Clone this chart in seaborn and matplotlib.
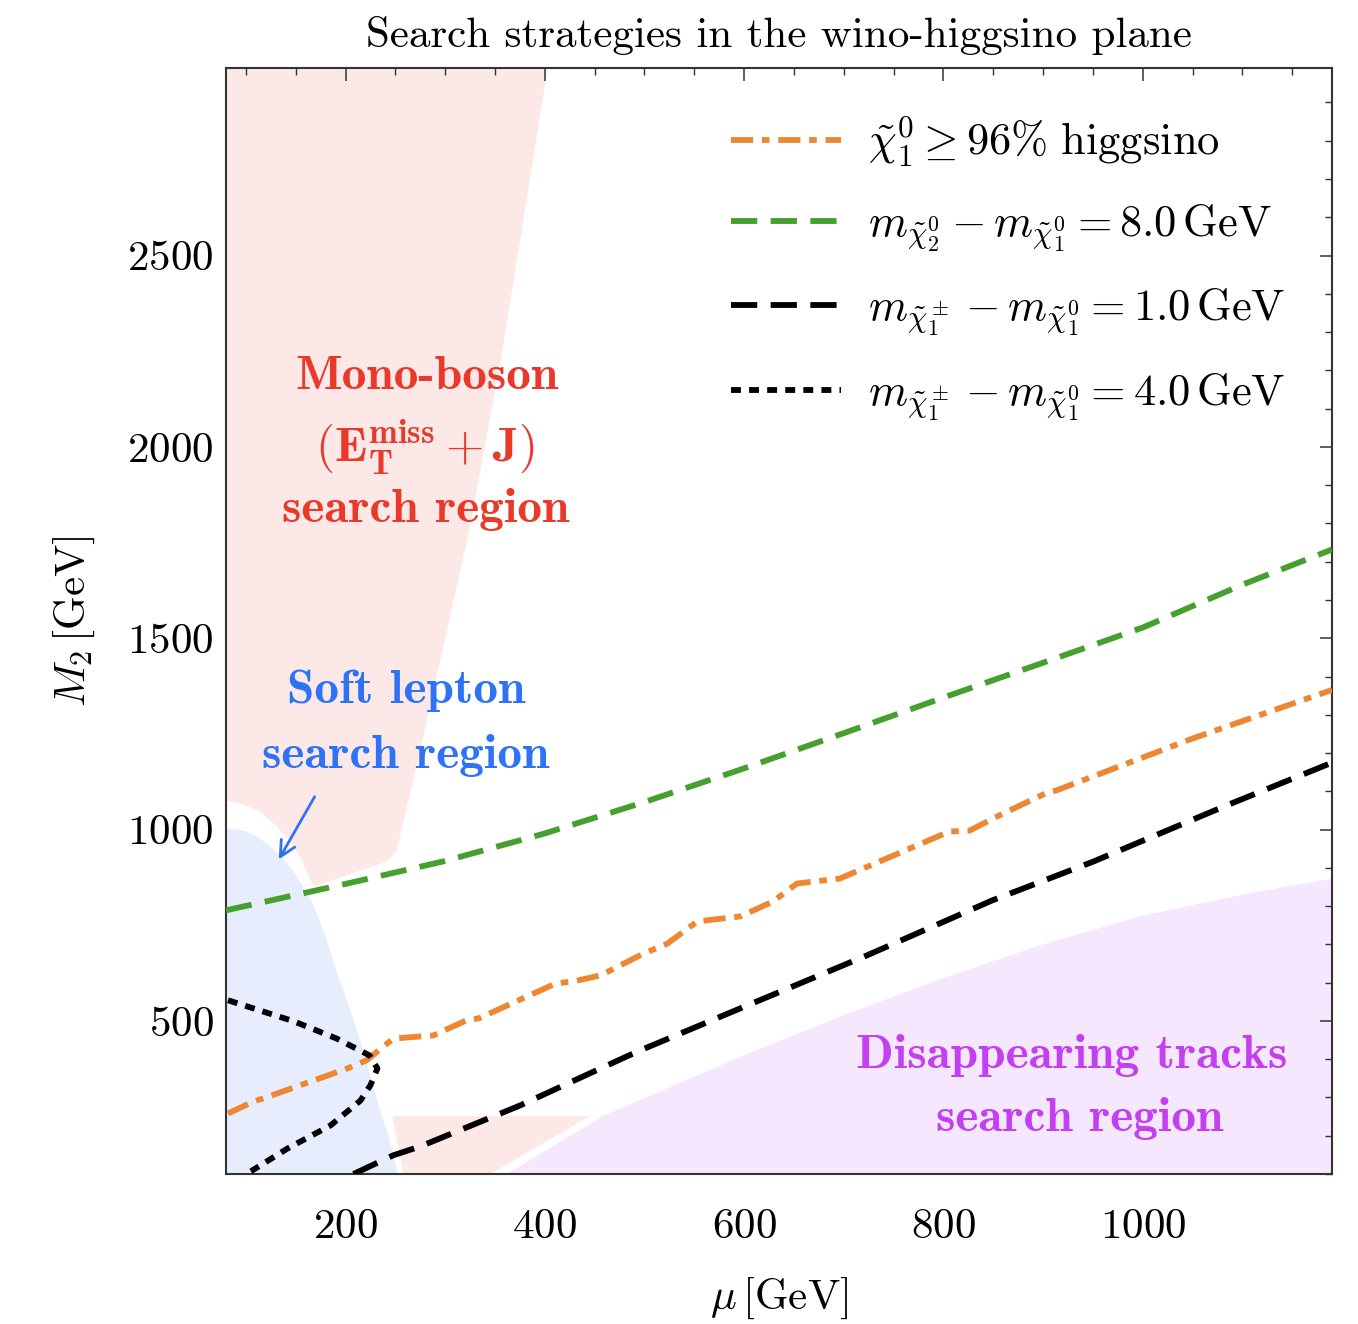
import matplotlib
matplotlib.use("Agg")
import matplotlib.pyplot as plt
from matplotlib.ticker import MultipleLocator
import pandas as pd
import seaborn as sns

# ---------------------------------------------------------------------------
# Contours in the (mu, M2) plane, GeV
# ---------------------------------------------------------------------------
mu_higgsino = [82, 108, 118, 202, 221, 248, 288, 321, 334, 411, 428, 456, 499,
               523, 553, 596, 629, 653, 696, 806, 826, 856, 906, 913, 1050, 1190]
m2_higgsino = [258, 290, 298, 376, 397, 454, 462, 501, 507, 598, 603, 619, 676,
               702, 760, 773, 812, 859, 872, 995, 997, 1037, 1099, 1102, 1238, 1365]

mu_dn2 = [80, 200, 300, 400, 500, 600, 700, 800, 900, 1000, 1100, 1190]
m2_dn2 = [789, 858, 918, 990, 1072, 1160, 1252, 1345, 1436, 1528, 1640, 1732]

mu_dc1 = [208, 248, 275, 375, 456, 493, 589, 723, 849, 950, 1084, 1190]
m2_dc1 = [100, 149, 172, 279, 376, 420, 525, 671, 815, 916, 1063, 1175]

mu_dc4 = [82, 148, 191, 224, 232, 225, 215, 185, 142, 105]
m2_dc4 = [554, 499, 454, 410, 376, 332, 292, 227, 167, 107]

# Search-region outlines
mu_mono = [80, 403, 356, 325, 273, 251, 241, 168, 158, 148, 131, 114, 97, 80]
m2_mono = [2990, 2990, 2230, 1791, 1185, 943, 916, 851, 908, 958, 1008, 1047, 1066, 1076]

mu_mono_low = [247, 445, 345, 258]
m2_mono_low = [251, 251, 100, 100]

mu_soft = [80, 92, 101, 112, 124, 136, 148, 158, 168, 180, 191, 203, 214,
           223, 231, 240, 247, 252, 80]
m2_soft = [1003, 1000, 995, 980, 958, 927, 890, 848, 802, 720, 629, 542, 454,
           376, 298, 225, 160, 100, 100]

mu_dt = [362, 458, 600, 700, 800, 900, 1000, 1100, 1190, 1190]
m2_dt = [100, 251, 410, 515, 612, 700, 775, 830, 872, 100]

legend_labels = [
    r"$\tilde{\chi}^0_1 \geq 96\%\ \mathrm{higgsino}$",
    r"$m_{\tilde{\chi}^0_2} - m_{\tilde{\chi}^0_1} = 8.0\,\mathrm{GeV}$",
    r"$m_{\tilde{\chi}^\pm_1} - m_{\tilde{\chi}^0_1} = 1.0\,\mathrm{GeV}$",
    r"$m_{\tilde{\chi}^\pm_1} - m_{\tilde{\chi}^0_1} = 4.0\,\mathrm{GeV}$",
]

# ---------------------------------------------------------------------------
sns.set_style("white")
plt.rcParams.update({
    "font.family": "serif",
    "font.serif": ["cmr10"],
    "mathtext.fontset": "cm",
    "axes.formatter.use_mathtext": True,
    "axes.unicode_minus": False,
    "text.color": "black",
    "axes.labelcolor": "black",
    "xtick.direction": "in",
    "ytick.direction": "in",
    "xtick.top": True,
    "ytick.right": True,
    "xtick.major.size": 9,
    "xtick.minor.size": 5,
    "ytick.major.size": 9,
    "ytick.minor.size": 5,
    "xtick.major.width": 1.1,
    "xtick.minor.width": 1.0,
    "ytick.major.width": 1.1,
    "ytick.minor.width": 1.0,
    "xtick.color": "#333333",
    "ytick.color": "#333333",
    "xtick.labelcolor": "black",
    "ytick.labelcolor": "black",
})

PINK = "#fce9e7"
BLUE = "#e7edfd"
PURPLE = "#f5e7fd"
ORANGE = "#ee8733"
GREEN = "#45a02e"
RED_TXT = "#e8392b"
BLUE_TXT = "#2e73f5"
PURPLE_TXT = "#c340f0"

fig = plt.figure(figsize=(13.58, 13.24), dpi=100)
ax = fig.add_axes([0.1664, 0.1133, 0.8145, 0.8353])

# shaded search regions
ax.fill(mu_mono, m2_mono, color=PINK, lw=0, zorder=0)
ax.fill(mu_mono_low, m2_mono_low, color=PINK, lw=0, zorder=0)
ax.fill(mu_soft, m2_soft, color=BLUE, lw=0, zorder=0)
ax.fill(mu_dt, m2_dt, color=PURPLE, lw=0, zorder=0)

LW = 4.2
series = [
    (mu_higgsino, m2_higgsino, ORANGE, (0, (3.8, 1.5, 1.3, 1.5))),
    (mu_dn2, m2_dn2, GREEN, (0, (4.5, 2.3))),
    (mu_dc1, m2_dc1, "black", (0, (4.5, 2.3))),
    (mu_dc4, m2_dc4, "black", (0, (1.7, 1.4))),
]
for (mx, my, col, ls), lab in zip(series, legend_labels):
    df = pd.DataFrame({"mu": mx, "M2": my})
    sns.lineplot(data=df, x="mu", y="M2", ax=ax, color=col, lw=LW,
                 linestyle=ls, estimator=None, sort=False, label=lab, zorder=3)

# arrow pointing into the soft-lepton region
ax.annotate("", xy=(133, 922), xytext=(169, 1086),
            arrowprops=dict(arrowstyle="->", color=BLUE_TXT, lw=2.0,
                            mutation_scale=28, shrinkA=0, shrinkB=0))

# region captions
CAP = 35.5
ax.text(282, 2183, "Mono-boson", ha="center", va="center", fontsize=CAP,
        color=RED_TXT, fontfamily="cmb10")
ax.text(280, 2000, r"$(\mathbf{E}_{\mathbf{T}}^{\mathbf{miss}} + \mathbf{J})$",
        ha="center", va="center", fontsize=CAP, color=RED_TXT)
ax.text(280, 1836, "search region", ha="center", va="center", fontsize=CAP,
        color=RED_TXT, fontfamily="cmb10")
ax.text(261, 1363, "Soft lepton", ha="center", va="center", fontsize=CAP,
        color=BLUE_TXT, fontfamily="cmb10")
ax.text(260, 1193, "search region", ha="center", va="center", fontsize=CAP,
        color=BLUE_TXT, fontfamily="cmb10")
ax.text(929, 410, "Disappearing tracks", ha="center", va="center", fontsize=CAP,
        color=PURPLE_TXT, fontfamily="cmb10")
ax.text(937, 245, "search region", ha="center", va="center", fontsize=CAP,
        color=PURPLE_TXT, fontfamily="cmb10")

ax.set_xlim(80, 1190)
ax.set_ylim(100, 2990)
ax.xaxis.set_major_locator(MultipleLocator(200))
ax.xaxis.set_minor_locator(MultipleLocator(50))
ax.yaxis.set_major_locator(MultipleLocator(500))
ax.yaxis.set_minor_locator(MultipleLocator(100))
ax.tick_params(axis="x", which="major", labelsize=31, pad=25)
ax.tick_params(axis="y", which="major", labelsize=31, pad=9)
ax.tick_params(which="both", top=True, right=True)

for sp in ax.spines.values():
    sp.set_color("#333333")
    sp.set_linewidth(1.5)

ax.set_xlabel(r"$\mu\,[\mathrm{GeV}]$", fontsize=31, labelpad=21)
ax.set_ylabel(r"$M_2\,[\mathrm{GeV}]$", fontsize=31, labelpad=22)
ax.set_title("Search strategies in the wino-higgsino plane", fontsize=31, pad=15)

leg = ax.legend(loc="upper right", frameon=False, fontsize=32,
                handlelength=2.48, handletextpad=0.6, labelspacing=0.75,
                borderaxespad=0.65)

fig.savefig("out.png", dpi=100)
